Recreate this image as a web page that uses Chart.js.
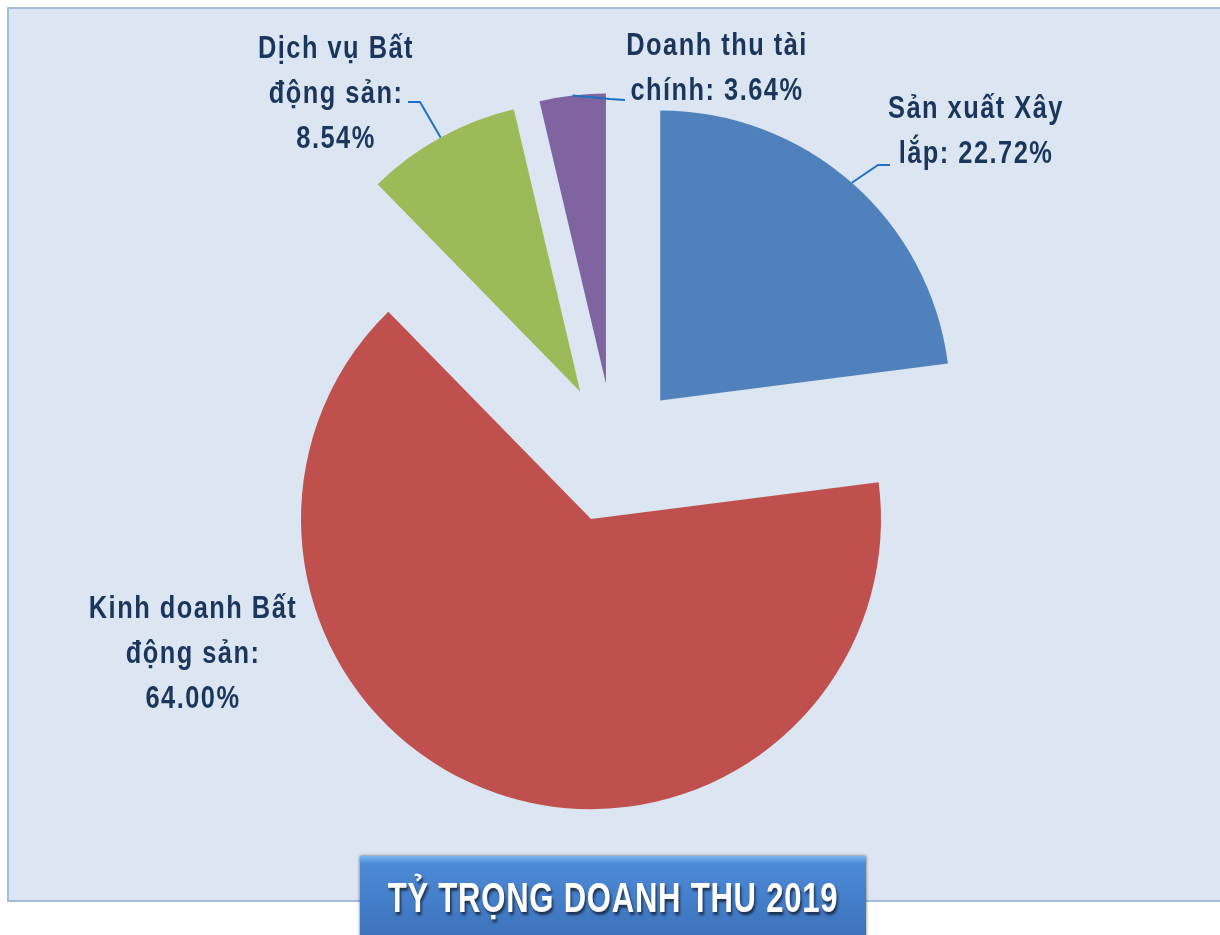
<!DOCTYPE html>
<html>
<head>
<meta charset="utf-8">
<script src="https://cdn.jsdelivr.net/npm/chart.js@4.4.1/dist/chart.umd.min.js"></script>
<style>
  html, body { margin: 0; padding: 0; background: #fff; }
  #wrap { position: relative; width: 1220px; height: 935px; overflow: hidden; }
  #panel {
    position: absolute; left: 7px; top: 7px; width: 1230px; height: 895px;
    background: #dce6f2; border: 2px solid #a4bcdc; box-sizing: border-box;
  }
  #chart-box { position: absolute; left: 0; top: 0; width: 1220px; height: 935px; }
  #title {
    position: absolute; left: 360px; top: 856px; width: 506px; height: 90px;
    background: linear-gradient(#7ab4f0 0px, #4d8ad6 8px, #4580cc 40px, #3a6fb6 90px);
    box-shadow: 0 0 3px rgba(0,0,0,0.6);
  }
  #title span {
    position: absolute; left: 50%; top: 0;
    transform: translateX(-50%) scaleX(0.74);
    color: #fff; font-family: "Liberation Sans", Arial, sans-serif;
    font-weight: bold; font-size: 42px; letter-spacing: 1px;
    line-height: 83px; white-space: nowrap;
    text-shadow: 2px 3px 3px rgba(0,0,0,0.6);
  }
</style>
</head>
<body>
<div id="wrap">
  <div id="panel"></div>
  <div id="chart-box"><canvas id="chart-pie"></canvas></div>
  <div id="title"><span>TỶ TRỌNG DOANH THU 2019</span></div>
</div>
<script>
const categories = ["Sản xuất Xây lắp", "Kinh doanh Bất động sản", "Dịch vụ Bất động sản", "Doanh thu tài chính"];
const shares = [22.72, 64.00, 8.54, 3.64];
const sliceColors = ["#4f81bd", "#c0504d", "#9bbb59", "#8064a2"];

// how each label is broken into lines (text) and where it sits (layout)
const labelLines = [
  ["Sản xuất Xây", "lắp: 22.72%"],
  ["Kinh doanh Bất", "động sản:", "64.00%"],
  ["Dịch vụ Bất", "động sản:", "8.54%"],
  ["Doanh thu tài", "chính: 3.64%"],
];
const labelLayout = [
  { x: 976, y: 118, leader: [[878, 165], [890, 165]] },
  { x: 193, y: 618, leader: null },
  { x: 336, y: 58, leader: [[420, 102], [408, 102]] },
  { x: 717, y: 55, leader: [[610, 99], [625, 100]] },
];

const EXPLODE = 70;
const RADIUS = 290;
const NARROW = 0.82; // squeeze Liberation Sans Bold to an Arial Narrow look

// pull every slice straight out along its mid angle (Excel style)
const baseArcDraw = Chart.ArcElement.prototype.draw;
Chart.ArcElement.prototype.draw = function (ctx) {
  const mid = (this.startAngle + this.endAngle) / 2;
  ctx.save();
  ctx.translate(Math.cos(mid) * EXPLODE, Math.sin(mid) * EXPLODE);
  baseArcDraw.call(this, ctx);
  ctx.restore();
};

const pieLabels = {
  id: "pieLabels",
  afterDatasetsDraw(chart) {
    const ctx = chart.ctx;
    const arcs = chart.getDatasetMeta(0).data;
    arcs.forEach((arc, i) => {
      const lay = labelLayout[i];
      labelLines[i].forEach((line, j) => {
        ctx.save();
        ctx.font = "bold 31px 'Liberation Sans', Arial, sans-serif";
        ctx.letterSpacing = "1.8px";
        ctx.fillStyle = "#1b365d";
        ctx.textAlign = "center";
        ctx.textBaseline = "alphabetic";
        ctx.translate(lay.x, lay.y + j * 45);
        ctx.scale(NARROW, 1);
        ctx.fillText(line, 0, 0);
        ctx.restore();
      });
      if (!lay.leader) return;
      const mid = (arc.startAngle + arc.endAngle) / 2;
      const r = EXPLODE + arc.outerRadius;
      ctx.save();
      ctx.beginPath();
      ctx.moveTo(arc.x + Math.cos(mid) * r, arc.y + Math.sin(mid) * r);
      lay.leader.forEach(([px, py]) => ctx.lineTo(px, py));
      ctx.strokeStyle = "#1f6fc4";
      ctx.lineWidth = 2;
      ctx.stroke();
      ctx.restore();
    });
  },
};

new Chart(document.getElementById("chart-pie"), {
  type: "pie",
  data: {
    labels: categories,
    datasets: [{
      data: shares,
      backgroundColor: sliceColors,
      borderWidth: 0,
    }],
  },
  options: {
    responsive: true,
    maintainAspectRatio: false,
    animation: false,
    events: [],
    radius: RADIUS,
    layout: { padding: { left: 8, right: 0, top: 0, bottom: 29 } },
    plugins: {
      legend: { display: false },
      tooltip: { enabled: false },
    },
  },
  plugins: [pieLabels],
});
</script>
</body>
</html>
